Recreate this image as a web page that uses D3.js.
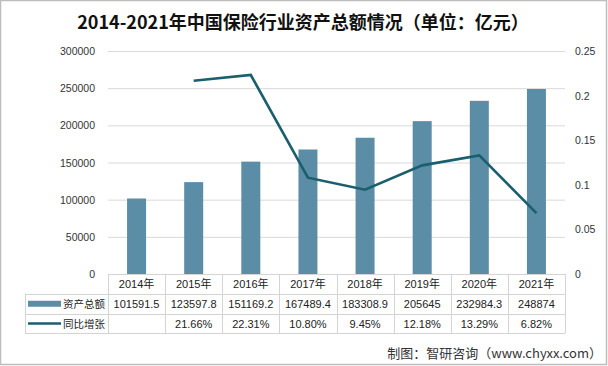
<!DOCTYPE html>
<html><head><meta charset="utf-8">
<script src="https://cdn.jsdelivr.net/npm/d3@7"></script>
<style>body{margin:0;background:#fff;}text{font-family:"Noto Sans CJK SC","Noto Sans",sans-serif;}
.n{font-family:"Liberation Sans","Noto Sans CJK SC",sans-serif;}</style>
</head><body>
<svg id="c" width="608" height="366"></svg>
<script>
const categories = ["2014年","2015年","2016年","2017年","2018年","2019年","2020年","2021年"];
const assets = [101591.5,123597.8,151169.2,167489.4,183308.9,205645,232984.3,248874];
const assetLabels = ["101591.5","123597.8","151169.2","167489.4","183308.9","205645","232984.3","248874"];
const growth = [null,0.2166,0.2231,0.1080,0.0945,0.1218,0.1329,0.0682];
const growthLabels = ["","21.66%","22.31%","10.80%","9.45%","12.18%","13.29%","6.82%"];
const leftTicks = [0,50000,100000,150000,200000,250000,300000];
const rightTicks = [0,0.05,0.1,0.15,0.2,0.25];
const seriesNames = ["资产总额","同比增张"];

const svg = d3.select("#c");
svg.append("rect").attr("x",0.5).attr("y",0.5).attr("width",606).attr("height",364).attr("fill","#fff").attr("stroke","#bdbdbd").attr("stroke-width",1.5);

const L=108, R=565, T=51, B=274;
const x = d3.scaleBand().domain(categories).range([L,R]);
const yL = d3.scaleLinear().domain([0,300000]).range([B,T]);
const yR = d3.scaleLinear().domain([0,0.25]).range([B,T]);

svg.append("text").attr("x",303).attr("y",29).attr("text-anchor","middle").attr("font-size",18).attr("font-weight","bold").attr("fill","#111").text("2014-2021年中国保险行业资产总额情况（单位：亿元）");

svg.append("g").selectAll("line").data(leftTicks.filter(d=>d>0)).join("line")
 .attr("x1",L).attr("x2",R).attr("y1",d=>yL(d)+0.5).attr("y2",d=>yL(d)+0.5).attr("stroke","#d9d9d9");

svg.append("g").selectAll("text").data(leftTicks).join("text").attr("class","n")
 .attr("x",95).attr("y",d=>yL(d)+4).attr("text-anchor","end").attr("font-size",10.5).attr("fill","#333")
 .text(d=>d);
svg.append("g").selectAll("text").data(rightTicks).join("text").attr("class","n")
 .attr("x",575).attr("y",d=>yR(d)+4).attr("text-anchor","start").attr("font-size",10.5).attr("fill","#333")
 .text(d=>d);

const bw=19;
svg.append("g").selectAll("rect").data(assets).join("rect")
 .attr("x",(d,i)=>x(categories[i])+x.bandwidth()/2-bw/2).attr("width",bw)
 .attr("y",d=>yL(d)).attr("height",d=>B-yL(d)).attr("fill","#5b8ea6");

const pts = growth.map((g,i)=>({g,c:categories[i]})).filter(d=>d.g!==null);
svg.append("path").datum(pts).attr("fill","none").attr("stroke","#1b5e6e").attr("stroke-width",2.6)
 .attr("d",d3.line().x(d=>x(d.c)+x.bandwidth()/2).y(d=>yR(d.g)));

const rowY=[274,293.5,314,333];
const tL=25;
const tg = svg.append("g").attr("stroke","#d4d4d4").attr("stroke-width",1);
tg.append("line").attr("x1",L).attr("x2",R).attr("y1",rowY[0]+0.5).attr("y2",rowY[0]+0.5);
[1,2,3].forEach(k=>tg.append("line").attr("x1",tL).attr("x2",R).attr("y1",Math.round(rowY[k])+0.5).attr("y2",Math.round(rowY[k])+0.5));
const bounds = categories.map(c=>x(c)).concat([R]);
bounds.forEach(b=>tg.append("line").attr("x1",Math.round(b)+0.5).attr("x2",Math.round(b)+0.5).attr("y1",rowY[0]).attr("y2",rowY[3]));
tg.append("line").attr("x1",tL+0.5).attr("x2",tL+0.5).attr("y1",rowY[1]).attr("y2",rowY[3]);

const fs=11;
const mid=(k)=>(rowY[k]+rowY[k+1])/2+4;
svg.append("g").selectAll("text").data(categories).join("text").attr("class","n")
 .attr("x",d=>x(d)+x.bandwidth()/2).attr("y",mid(0)).attr("text-anchor","middle").attr("font-size",fs).attr("fill","#222").text(d=>d);
svg.append("g").selectAll("text").data(assetLabels).join("text").attr("class","n")
 .attr("x",(d,i)=>x(categories[i])+x.bandwidth()/2).attr("y",mid(1)).attr("text-anchor","middle").attr("font-size",fs).attr("fill","#222").text(d=>d);
svg.append("g").selectAll("text").data(growthLabels).join("text").attr("class","n")
 .attr("x",(d,i)=>x(categories[i])+x.bandwidth()/2).attr("y",mid(2)).attr("text-anchor","middle").attr("font-size",fs).attr("fill","#222").text(d=>d);

svg.append("rect").attr("x",28).attr("y",(rowY[1]+rowY[2])/2-3).attr("width",33).attr("height",6).attr("fill","#5b8ea6");
svg.append("line").attr("x1",28).attr("x2",61).attr("y1",(rowY[2]+rowY[3])/2).attr("y2",(rowY[2]+rowY[3])/2).attr("stroke","#1b5e6e").attr("stroke-width",2.6);
svg.append("text").attr("x",63).attr("y",mid(1)).attr("font-size",10.5).attr("fill","#222").text(seriesNames[0]);
svg.append("text").attr("x",63).attr("y",mid(2)).attr("font-size",10.5).attr("fill","#222").text(seriesNames[1]);

svg.append("text").attr("x",602).attr("y",358).attr("text-anchor","end").attr("font-size",13).attr("fill","#333").text("制图：智研咨询（www.chyxx.com）");
</script>
</body></html>
